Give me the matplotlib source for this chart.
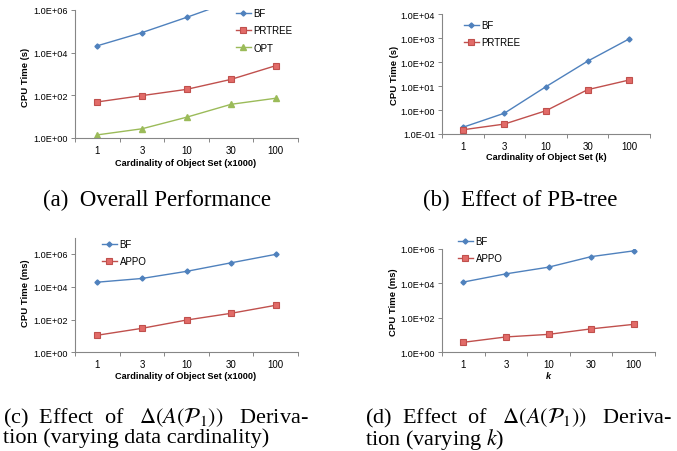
import numpy as np
import matplotlib
matplotlib.use('Agg')
import matplotlib.pyplot as plt

plt.rcParams['font.family'] = 'Liberation Sans'
plt.rcParams['mathtext.fontset'] = 'stix'

W, H = 677, 452

cats = ['1', '3', '10', '30', '100']

a_bf = [2.1e4, 8.7e4, 4.5e5, 2.5e6, 1.2e7]
a_prtree = [49, 97, 190, 560, 2450]
a_opt = [1.4, 2.7, 9.4, 38, 73]

b_bf = [0.19, 0.74, 9.5, 110, 940]
b_prtree = [0.15, 0.26, 0.94, 7.1, 18]

c_bf = [1.9e4, 3.2e4, 8.7e4, 2.9e5, 9.5e5]
c_appo = [11, 29, 93, 240, 740]

d_bf = [1.2e4, 3.6e4, 8.8e4, 3.6e5, 7.8e5]
d_appo = [3.8, 7.8, 11, 23, 42]

BLUE = '#4F81BD'
RED = '#C0504D'
GREEN = '#9BBB59'
GRAY = '#868686'

styles = {
    'BF': dict(color=BLUE, marker='D', markersize=2.6, mfc=BLUE, mec=BLUE),
    'PRTREE': dict(color=RED, marker='s', markersize=4, mfc='#E26B68', mec=RED, mew=0.8),
    'APPO': dict(color=RED, marker='s', markersize=4, mfc='#E26B68', mec=RED, mew=0.8),
    'OPT': dict(color=GREEN, marker='^', markersize=4, mfc=GREEN, mec=GREEN),
}


def rect(l, r, t, b):
    return [l / W, 1 - b / H, (r - l) / W, (b - t) / H]


fig = plt.figure(figsize=(W / 100, H / 100), dpi=100)


def panel(box, series, ylim, yticks, leg_xy, ylab, ylab_xy, xlab, xlab_xy, xlab_style='normal'):
    ax = fig.add_axes(rect(*box))
    x = np.arange(len(cats))
    for name, vals in series:
        ax.plot(x, vals, lw=1.0, label=name, **styles[name])
    ax.set_yscale('log')
    ax.set_ylim(*ylim)
    ax.set_xlim(-0.5, len(cats) - 0.5)
    ax.set_yticks(yticks)
    ax.set_yticklabels([f'{v:.1E}' for v in yticks])
    ax.yaxis.set_minor_locator(matplotlib.ticker.NullLocator())
    ax.set_xticks(x)
    ax.set_xticklabels(cats)
    ax.set_xticks(np.arange(len(cats) + 1) - 0.5, minor=True)
    ax.tick_params(axis='x', which='major', length=0, pad=5, labelsize=7, colors='black')
    ax.tick_params(axis='x', which='minor', length=3, width=0.7, color=GRAY)
    ax.tick_params(axis='y', which='major', length=3, width=0.7, color=GRAY, labelsize=6.6, pad=2)
    for s in ['top', 'right']:
        ax.spines[s].set_visible(False)
    for s in ['left', 'bottom']:
        ax.spines[s].set_color(GRAY)
        ax.spines[s].set_linewidth(0.8)
    ax.legend(loc='upper left', bbox_to_anchor=(leg_xy[0] / W, 1 - leg_xy[1] / H),
              bbox_transform=fig.transFigure, frameon=False, borderpad=0, borderaxespad=0,
              handlelength=1.5, handletextpad=0.3, labelspacing=0.75, fontsize=7)
    fig.text(ylab_xy[0] / W, 1 - ylab_xy[1] / H, ylab, rotation=90, ha='center', va='center',
             fontsize=6.8, fontweight='bold')
    fig.text(xlab_xy[0] / W, 1 - xlab_xy[1] / H, xlab, ha='center', va='center',
             fontsize=6.6, fontweight='bold', style=xlab_style)
    return ax


panel((75, 298, 11, 139), [('BF', a_bf), ('PRTREE', a_prtree), ('OPT', a_opt)],
      (1, 1e6), [1, 1e2, 1e4, 1e6], (236, 9), 'CPU Time (s)', (25, 77),
      'Cardinality of Object Set (x1000)', (186, 163))
panel((442, 650, 15.3, 135), [('BF', b_bf), ('PRTREE', b_prtree)],
      (0.1, 1e4), [0.1, 1, 10, 100, 1e3, 1e4], (464, 21), 'CPU Time (s)', (395, 75),
      'Cardinality of Object Set (k)', (546, 158))
panel((75, 298, 238.6, 353.3), [('BF', c_bf), ('APPO', c_appo)],
      (1, 1e7), [1, 1e2, 1e4, 1e6], (102, 240), 'CPU Time (ms)', (25, 293),
      'Cardinality of Object Set (x1000)', (186, 377))
panel((442, 655, 250, 353.3), [('BF', d_bf), ('APPO', d_appo)],
      (1, 1e6), [1, 1e2, 1e4, 1e6], (458, 237), 'CPU Time (ms)', (393, 302),
      'k', (548, 377), xlab_style='italic')

cap = dict(family='Liberation Serif', fontsize=16.5)
fig.text(157 / W, 1 - 206 / H, '(a)  Overall Performance', ha='center', va='baseline', **cap)
fig.text(520 / W, 1 - 206 / H, '(b)  Effect of PB-tree', ha='center', va='baseline', **cap)
cap2 = dict(family='Liberation Serif', fontsize=16)
fig.text(3 / W, 1 - 407 / H,
         '(c)  Effect  of   $\\Delta(A(\\mathcal{P}_1))$   Deriva-\ntion (varying data cardinality)',
         ha='left', va='top', linespacing=0.85, **cap2)
fig.text(365 / W, 1 - 407 / H,
         '(d)  Effect  of   $\\Delta(A(\\mathcal{P}_1))$   Deriva-\ntion (varying $k$)',
         ha='left', va='top', linespacing=0.85, **cap2)

fig.savefig('out.png', dpi=100)
